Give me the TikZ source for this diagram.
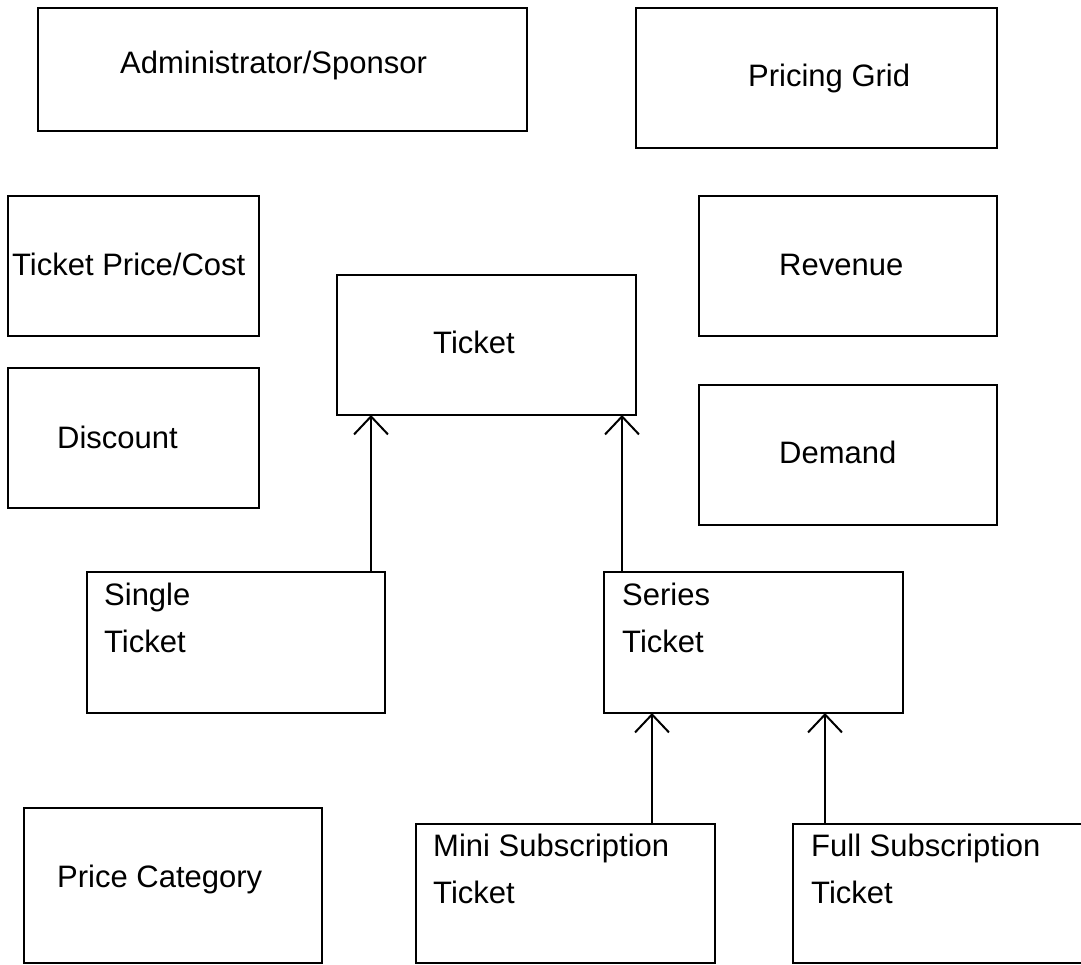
\documentclass[tikz,border=0pt]{standalone}
\usepackage{fontspec}
\setmainfont{Liberation Sans}
\usetikzlibrary{arrows.meta}
\begin{document}
\begin{tikzpicture}[x=1pt,y=-1pt,
  box/.style={draw=black, line width=2pt, inner sep=0pt, outer sep=0pt, anchor=north west},
  lbl/.style={inner sep=0pt, anchor=base west, font=\fontsize{31}{37}\selectfont},
  inh/.style={draw=black, line width=2pt, -{Straight Barb[length=18pt,width=34pt]}}]
\clip (0,0) rectangle (1081,965);
\fill[white] (0,0) rectangle (1081,965);
% boxes
\node[box, minimum width=489pt, minimum height=123pt] (admin) at (38,8) {};
\node[box, minimum width=361pt, minimum height=140pt] (pricing) at (636,8) {};
\node[box, minimum width=251pt, minimum height=140pt] (tpc) at (8,196) {};
\node[box, minimum width=298pt, minimum height=140pt] (revenue) at (699,196) {};
\node[box, minimum width=299pt, minimum height=140pt] (ticket) at (337,275) {};
\node[box, minimum width=251pt, minimum height=140pt] (discount) at (8,368) {};
\node[box, minimum width=298pt, minimum height=140pt] (demand) at (699,385) {};
\node[box, minimum width=298pt, minimum height=141pt] (single) at (87,572) {};
\node[box, minimum width=299pt, minimum height=141pt] (series) at (604,572) {};
\node[box, minimum width=298pt, minimum height=155pt] (pricecat) at (24,808) {};
\node[box, minimum width=299pt, minimum height=139pt] (mini) at (416,824) {};
\node[box, minimum width=299pt, minimum height=139pt] (full) at (793,824) {};
% labels
\node[lbl] (tadmin) at (120,74) {Administrator/Sponsor};
\node[lbl] (tpricing) at (748,87) {Pricing Grid};
\node[lbl] (ttpc) at (12,276) {Ticket Price/Cost};
\node[lbl] (trevenue) at (779,276) {Revenue};
\node[lbl] (tticket) at (433,353) {Ticket};
\node[lbl] (tdiscount) at (57,448) {Discount};
\node[lbl] (tdemand) at (779,463) {Demand};
\node[lbl] (tsingle1) at (104,605) {Single};
\node[lbl] (tsingle2) at (104,652) {Ticket};
\node[lbl] (tseries1) at (622,605) {Series};
\node[lbl] (tseries2) at (622,652) {Ticket};
\node[lbl] (tpricecat) at (57,887) {Price Category};
\node[lbl] (tmini1) at (433,856) {Mini Subscription};
\node[lbl] (tmini2) at (433,903) {Ticket};
\node[lbl] (tfull1) at (811,856) {Full Subscription};
\node[lbl] (tfull2) at (811,903) {Ticket};
% generalisation arrows
\draw[inh] ([xshift=284pt]single.north west) -- ([xshift=34pt]ticket.south west);
\draw[inh] ([xshift=18pt]series.north west) -- ([xshift=285pt]ticket.south west);
\draw[inh] ([xshift=236pt]mini.north west) -- ([xshift=48pt]series.south west);
\draw[inh] ([xshift=32pt]full.north west) -- ([xshift=221pt]series.south west);
\end{tikzpicture}
\end{document}
